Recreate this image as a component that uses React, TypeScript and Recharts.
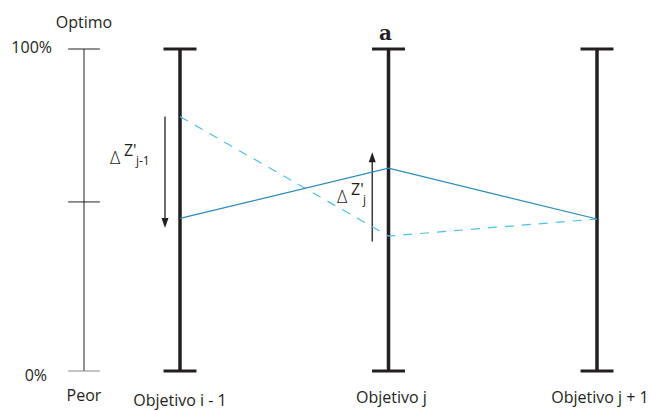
import React from 'react';
import { LineChart, Line, XAxis, YAxis, ReferenceLine, ReferenceDot } from 'recharts';

// ---- data ----
const objectives = ['Objetivo i - 1', 'Objetivo j', 'Objetivo j + 1'];
const solutionA = [47.4, 63.0, 47.2]; // solid line
const solutionB = [79.0, 41.9, 47.2]; // dashed line
const scaleTicks = [100, 52.5, 0];
const scaleTickLabels = ['100%', '', '0%'];
const scaleEnds = ['Optimo', 'Peor'];
const deltaSubs = ['j-1', 'j'];

const data = objectives.map((name, i) => ({ idx: i, name, a: solutionA[i], b: solutionB[i] }));

// ---- styling / layout constants ----
const FONT = '"Open Sans", sans-serif';
const INK = '#231f20';
const SOLID = '#2a8bb8';
const DASHED = '#4fc0e8';
const LEFT_AXIS_X = -0.4604;
const TICK_HALF = 0.076;
const CAP_HALF = 0.079;

const arrows = [
  { x: -0.072, from: 79.0, to: 44.4 },
  { x: 0.922, from: 40.2, to: 67.9 },
];
const deltaAnchors = [
  { x: -0.336, y: 64.3 },
  { x: 0.753, y: 52.2 },
];

const textShape = (
  text: string,
  dx: number,
  dy: number,
  anchor: 'start' | 'middle' | 'end',
  extra: Record<string, any> = {}
) => (p: any) => (
  <text
    x={p.cx + dx}
    y={p.cy + dy}
    textAnchor={anchor}
    fontFamily={FONT}
    fontSize={16}
    fill={INK}
    {...extra}
  >
    {text}
  </text>
);

const deltaShape = (sub: string) => (p: any) => (
  <text fontFamily={FONT} fill={INK}>
    <tspan x={p.cx} y={p.cy} fontSize={18} fontWeight={300}>Δ</tspan>
    <tspan x={p.cx + 14} y={p.cy - 8} fontSize={16}>Z'</tspan>
    <tspan x={p.cx + 26} y={p.cy + 1} fontSize={12}>{sub}</tspan>
  </text>
);

const arrowHead = (dir: 'up' | 'down') => (p: any) => {
  const s = dir === 'down' ? -1 : 1;
  return (
    <path
      d={`M${p.cx - 3.5},${p.cy + s * 10} L${p.cx + 3.5},${p.cy + s * 10} L${p.cx},${p.cy} Z`}
      fill={INK}
    />
  );
};

export default function App() {
  return (
    <div style={{ position: 'absolute', left: 0, top: 0, width: 651, height: 411, background: '#fff' }}>
      <LineChart
        width={651}
        height={411}
        data={data}
        margin={{ top: 49, right: 54, bottom: 40, left: 180 }}
      >
        <XAxis dataKey="idx" type="number" domain={[0, 2]} hide />
        <YAxis type="number" domain={[0, 100]} hide />

        {/* left reference scale */}
        <ReferenceLine
          segment={[{ x: LEFT_AXIS_X, y: 0 }, { x: LEFT_AXIS_X, y: 100 }]}
          stroke={INK}
          strokeWidth={1}
          ifOverflow="visible"
        />
        {scaleTicks.map((t, i) => (
          <ReferenceLine
            key={'t' + i}
            segment={[{ x: LEFT_AXIS_X - TICK_HALF, y: t }, { x: LEFT_AXIS_X + TICK_HALF, y: t }]}
            stroke={t === 0 ? '#8a8a8a' : INK}
            strokeWidth={1}
            ifOverflow="visible"
          />
        ))}
        {scaleTicks.map((t, i) =>
          scaleTickLabels[i] ? (
            <ReferenceDot
              key={'tl' + i}
              x={LEFT_AXIS_X}
              y={t}
              r={0}
              ifOverflow="visible"
              shape={textShape(scaleTickLabels[i], t === 0 ? -37 : -32, t === 0 ? 10 : 4, 'end')}
            />
          ) : null
        )}
        <ReferenceDot x={LEFT_AXIS_X} y={100} r={0} ifOverflow="visible" shape={textShape(scaleEnds[0], 0, -21, 'middle')} />
        <ReferenceDot x={LEFT_AXIS_X} y={0} r={0} ifOverflow="visible" shape={textShape(scaleEnds[1], 0, 30, 'middle')} />

        {/* objective axes */}
        {objectives.map((_, i) => (
          <ReferenceLine key={'ax' + i} x={i} stroke={INK} strokeWidth={3.5} ifOverflow="visible" />
        ))}
        {objectives.map((_, i) =>
          [100, 0].map((v) => (
            <ReferenceLine
              key={'cap' + i + v}
              segment={[{ x: i - CAP_HALF, y: v }, { x: i + CAP_HALF, y: v }]}
              stroke={INK}
              strokeWidth={3}
              ifOverflow="visible"
            />
          ))
        )}
        {objectives.map((name, i) => (
          <ReferenceDot
            key={'on' + i}
            x={i}
            y={0}
            r={0}
            ifOverflow="visible"
            shape={textShape(name, i === 0 ? 0 : 3, i === 0 ? 35 : 32, 'middle')}
          />
        ))}
        <ReferenceDot
          x={1}
          y={100}
          r={0}
          ifOverflow="visible"
          shape={textShape('a', -3, -9, 'middle', { fontFamily: '"DejaVu Serif", serif', fontWeight: 700, fontSize: 20 })}
        />

        {/* arrows */}
        {arrows.map((a, i) => (
          <ReferenceLine
            key={'ar' + i}
            segment={[{ x: a.x, y: a.from }, { x: a.x, y: a.to + (a.to < a.from ? 2 : -2) }]}
            stroke={INK}
            strokeWidth={1.3}
            ifOverflow="visible"
          />
        ))}
        {arrows.map((a, i) => (
          <ReferenceDot
            key={'ah' + i}
            x={a.x}
            y={a.to}
            r={0}
            ifOverflow="visible"
            shape={arrowHead(a.to < a.from ? 'down' : 'up')}
          />
        ))}
        {deltaAnchors.map((d, i) => (
          <ReferenceDot key={'dl' + i} x={d.x} y={d.y} r={0} ifOverflow="visible" shape={deltaShape(deltaSubs[i])} />
        ))}

        {/* solutions */}
        <Line
          type="linear"
          dataKey="b"
          stroke={DASHED}
          strokeWidth={1.2}
          strokeDasharray="9 8"
          dot={false}
          activeDot={false}
          isAnimationActive={false}
        />
        <Line
          type="linear"
          dataKey="a"
          stroke={SOLID}
          strokeWidth={1.2}
          dot={false}
          activeDot={false}
          isAnimationActive={false}
        />
      </LineChart>
    </div>
  );
}
